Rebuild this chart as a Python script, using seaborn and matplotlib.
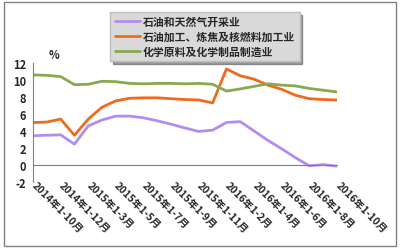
import pandas as pd
import matplotlib
matplotlib.use('Agg')
import matplotlib.pyplot as plt
import seaborn as sns
from matplotlib.patches import Rectangle

# period labels (monthly cumulative, ticks every 2 periods)
periods = ['2014年1-10月', '2014年1-11月', '2014年1-12月',
           '2015年1-2月', '2015年1-3月', '2015年1-4月', '2015年1-5月', '2015年1-6月',
           '2015年1-7月', '2015年1-8月', '2015年1-9月', '2015年1-10月', '2015年1-11月',
           '2015年1-12月',
           '2016年1-2月', '2016年1-3月', '2016年1-4月', '2016年1-5月', '2016年1-6月',
           '2016年1-7月', '2016年1-8月', '2016年1-9月', '2016年1-10月']

oil_gas = [3.45, 3.5, 3.55, 2.45, 4.6, 5.3, 5.75, 5.75, 5.55, 5.2, 4.8, 4.35,
           3.95, 4.1, 5.0, 5.1, 4.0, 2.9, 1.9, 0.85, -0.1, 0.05, -0.15]
refining = [5.0, 5.05, 5.4, 3.5, 5.4, 6.8, 7.55, 7.85, 7.9, 7.9, 7.8, 7.7,
            7.65, 7.3, 11.3, 10.5, 10.1, 9.4, 8.9, 8.2, 7.8, 7.7, 7.65]
chemical = [10.6, 10.55, 10.4, 9.45, 9.5, 9.85, 9.8, 9.6, 9.55, 9.6, 9.6, 9.55,
            9.6, 9.5, 8.7, 8.95, 9.25, 9.55, 9.4, 9.3, 9.0, 8.8, 8.6]

names = ['石油和天然气开采业', '石油加工、炼焦及核燃料加工业', '化学原料及化学制品制造业']
colors = ['#b38cf0', '#ef6a1f', '#86aa4e']

df = pd.DataFrame({'idx': range(len(periods)), names[0]: oil_gas,
                   names[1]: refining, names[2]: chemical})
long = df.melt(id_vars='idx', var_name='行业', value_name='值')

sns.set_style('white')
plt.rcParams['font.family'] = ['Noto Sans CJK SC', 'DejaVu Sans']
plt.rcParams['axes.unicode_minus'] = False

fig = plt.figure(figsize=(4, 2.51), dpi=100)
ax = fig.add_axes([0.0825, 0.271, 0.76, 0.474])

sns.lineplot(data=long, x='idx', y='值', hue='行业', palette=colors,
             linewidth=2.0, ax=ax)

ax.set_xlim(0, len(periods) - 1)
ax.set_ylim(-2, 12)
ax.set_xlabel('')
ax.set_ylabel('')

for s in ['top', 'right']:
    ax.spines[s].set_visible(False)
ax.spines['bottom'].set_position(('data', 0))
ax.spines['bottom'].set_color('#808080')
ax.spines['left'].set_color('#808080')
ax.tick_params(axis='x', direction='out', length=3, color='#808080', pad=10)
ax.tick_params(axis='y', direction='out', length=3, color='#808080', pad=2)

ax.set_yticks(range(-2, 13, 2))
ax.set_yticklabels([str(v) for v in range(-2, 13, 2)], fontsize=8, fontweight='bold')
ax.set_xticks(range(0, len(periods), 2))
ax.set_xticklabels(periods[::2], rotation=-45, ha='left', va='center',
                   rotation_mode='anchor', fontsize=7.4, fontweight='bold')

ax.text(0.05, 1.04, '%', transform=ax.transAxes, fontsize=8, fontweight='bold')

leg = ax.legend(loc='upper left', bbox_to_anchor=(0.2625, 0.968),
                bbox_transform=fig.transFigure, frameon=True, shadow=True,
                fancybox=False, handlelength=2.3, labelspacing=0.4,
                handletextpad=0.3, borderpad=0.4,
                prop={'size': 7.8, 'weight': 'bold'})
leg.get_frame().set_facecolor('#d9d9d9')
leg.get_frame().set_edgecolor('#bfbfbf')
leg.get_frame().set_alpha(1)

# outer border of chart area
fig.patches.append(Rectangle((0.011, 0.016), 0.979, 0.972, transform=fig.transFigure,
                             fill=False, edgecolor='#808080', linewidth=1))

fig.savefig('out.png', dpi=100)
